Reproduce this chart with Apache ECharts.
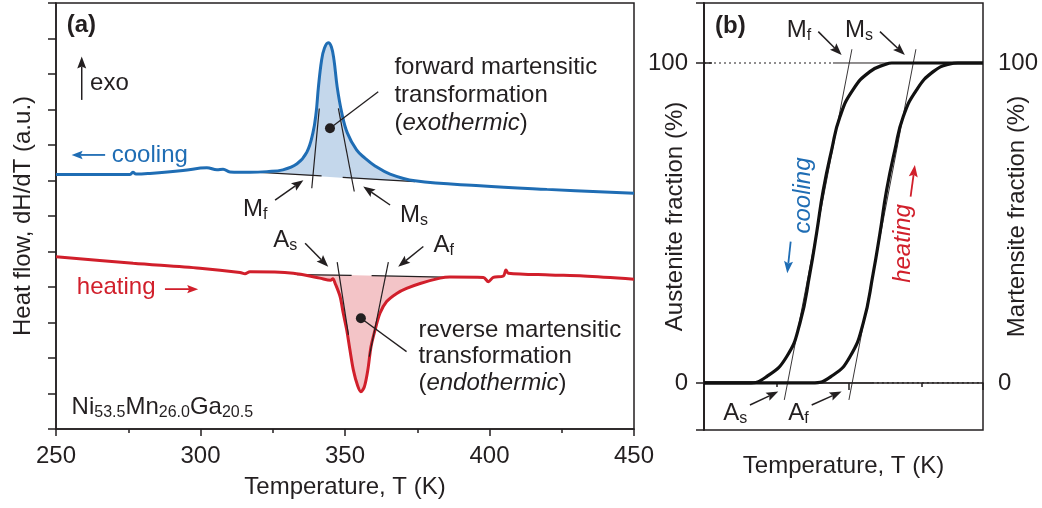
<!DOCTYPE html>
<html>
<head>
<meta charset="utf-8">
<script src="https://cdn.jsdelivr.net/npm/echarts@6/dist/echarts.min.js"></script>
<style>
  html, body { margin: 0; padding: 0; background: #fff; }
  #chart { width: 1042px; height: 508px; }
</style>
</head>
<body>
<div id="chart"></div>
<script>
// ---------- (a) DSC heat-flow traces, temperature in K, heat flow in arbitrary units ----------
const coolT = [250, 275.6, 276.6, 277.7, 282.5, 293.9, 302.2, 305.7, 307.8, 310.2, 317.1, 323.0, 328.5,
  333.4, 336.8, 338.9, 340.0, 340.8, 341.9, 342.9, 344.2, 345.3, 346.2, 347.3, 348.9, 350.8, 354.0,
  356.9, 360.4, 365.6, 374.2, 396.7, 419.9, 450];
const coolQ = [7.17, 7.17, 7.23, 7.18, 7.20, 7.28, 7.36, 7.30, 7.32, 7.24, 7.23, 7.25, 7.30,
  7.47, 7.80, 8.34, 8.90, 9.63, 10.39, 10.73, 10.88, 10.76, 10.39, 9.63, 8.90, 8.34, 7.86,
  7.63, 7.41, 7.18, 6.99, 6.85, 6.75, 6.64];

const heatT = [250, 276.7, 299.8, 313.7, 315.4, 317.1, 332.1, 341.3, 345.0, 345.8, 346.6, 348.3, 349.4,
  350.6, 351.7, 352.9, 354.3, 355.5, 356.7, 357.9, 359.0, 360.4, 362.1, 364.4, 367.9, 371.3, 376.0,
  382.9, 386.3, 397.9, 399.6, 401.3, 404.8, 405.7, 406.5, 420.9, 432.5, 450];
const heatQ = [4.85, 4.67, 4.53, 4.41, 4.37, 4.43, 4.39, 4.25, 4.19, 4.23, 4.10, 3.73, 3.26,
  2.79, 2.23, 1.66, 1.24, 1.05, 1.19, 1.66, 2.32, 2.79, 3.26, 3.59, 3.82, 3.96, 4.10,
  4.25, 4.28, 4.27, 4.15, 4.27, 4.31, 4.48, 4.39, 4.34, 4.31, 4.22];

// extrapolated baselines (end points) and the parts of them that are drawn
const coolBase = [[320.6, 7.23], [374.2, 6.97]];
const coolBaseDrawn = [[[320.6, 7.23], [341.9, 7.13]], [[349.2, 7.09], [374.2, 6.97]]];
const heatBase = [[333.4, 4.35], [388.1, 4.27]];
const heatBaseDrawn = [[[333.4, 4.35], [352.3, 4.33]], [[359.2, 4.32], [388.1, 4.27]]];

// onset / finish tangents
const tangentsA = [
  [[341.1, 9.03], [338.5, 6.78]],   // Mf
  [[347.7, 9.03], [353.2, 6.69]],   // Ms
  [[347.3, 4.70], [351.2, 2.65]],   // As
  [[365.0, 4.70], [358.4, 2.04]]    // Af
];

// ---------- (b) transformed fraction, arbitrary temperature units ----------
const lowU  = [0, 0.607, 0.865, 1.14, 1.324, 1.462, 1.554, 1.646, 1.761, 1.876, 2.055, 2.29, 2.52, 2.59, 3.85];
const lowF  = [0, 0, 2.0, 8.2, 18.75, 34.4, 46.9, 60.3, 72.8, 83.2, 91.6, 97.3, 99.7, 100, 100];
const highU = [0, 1.485, 1.784, 2.014, 2.197, 2.335, 2.428, 2.52, 2.634, 2.749, 2.934, 3.163, 3.393, 3.50, 3.85];
const highF = [0, 0, 2.5, 8.2, 18.7, 34.3, 46.8, 60.3, 72.8, 83.2, 91.6, 97.3, 99.7, 100, 100];
const tangentsB = [
  [[2.041, 104.3], [1.108, -5.3]],
  [[2.924, 104.3], [2.000, -5.3]]
];
const fractionTicks = [0, 100];

// ---------- styling ----------
const FONT = '"Liberation Sans", Arial, Helvetica, sans-serif';
const INK = '#231f20';
const BLUE = '#1f6db4';
const RED = '#d11f2b';
const BLUE_FILL = '#c4d7eb';
const RED_FILL = '#f3c4c7';
const FS = 24;

const RICH = {
  sub: { fontSize: 16, fontFamily: FONT, color: INK, lineHeight: 10, verticalAlign: 'bottom' },
  it: { fontStyle: 'italic', fontSize: FS, fontFamily: FONT, color: INK }
};

const pairs = (xs, ys) => xs.map((x, i) => [x, ys[i]]);

// straight segments (optionally with an arrow head at the second point)
function segmentSeries(segs, xi, yi, color, width, opts) {
  opts = opts || {};
  return {
    type: 'custom', coordinateSystem: 'cartesian2d', xAxisIndex: xi, yAxisIndex: yi,
    silent: true, clip: false, z: opts.z || 4,
    encode: { x: [0, 2], y: [1, 3] },
    data: segs.map(s => [s[0][0], s[0][1], s[1][0], s[1][1]]),
    renderItem: (params, api) => {
      const a = api.coord([api.value(0), api.value(1)]);
      const b = api.coord([api.value(2), api.value(3)]);
      const children = [];
      let end = b;
      if (opts.arrow) {
        const dx = b[0] - a[0], dy = b[1] - a[1];
        const L = Math.hypot(dx, dy), ux = dx / L, uy = dy / L;
        const hl = opts.arrow[0], hw = opts.arrow[1];
        const base = [b[0] - ux * hl, b[1] - uy * hl];
        const notch = [b[0] - ux * hl * 0.82, b[1] - uy * hl * 0.82];
        children.push({
          type: 'polygon',
          shape: { points: [b, [base[0] - uy * hw, base[1] + ux * hw], notch, [base[0] + uy * hw, base[1] - ux * hw]] },
          style: { fill: color }
        });
        end = notch;
      }
      children.unshift({
        type: 'line',
        shape: { x1: a[0], y1: a[1], x2: end[0], y2: end[1] },
        style: { stroke: color, lineWidth: width, lineDash: opts.dash || null, fill: null }
      });
      return { type: 'group', children };
    }
  };
}

// filled area between a trace and its baseline
function fillSeries(xs, ys, base, color) {
  const pts = [base[0]];
  xs.forEach((x, i) => { if (x > base[0][0] && x < base[1][0]) pts.push([x, ys[i]]); });
  pts.push(base[1]);
  return {
    type: 'custom', coordinateSystem: 'cartesian2d', xAxisIndex: 0, yAxisIndex: 0,
    silent: true, z: 1, data: [base[0]],
    renderItem: (params, api) => ({
      type: 'polygon',
      shape: { points: pts.map(p => api.coord(p)), smooth: 0.3 },
      style: { fill: color }
    })
  };
}

// text annotations anchored in data coordinates
function textSeries(items, xi, yi) {
  return {
    type: 'scatter', xAxisIndex: xi, yAxisIndex: yi, symbolSize: 0, silent: true, z: 10,
    itemStyle: { color: 'rgba(0,0,0,0)', opacity: 1 },
    data: items.map(it => ({
      value: it.at,
      label: Object.assign({
        show: true, position: 'right', distance: 0, formatter: it.text,
        color: INK, fontFamily: FONT, fontSize: FS, rich: RICH
      }, it.style || {})
    }))
  };
}

const axisLineStyle = { color: INK, width: 1.5 };
const nameStyle = { fontFamily: FONT, fontSize: FS, color: INK };
const labelStyle = { fontFamily: FONT, fontSize: FS, color: INK };

const option = {
  animation: false,
  backgroundColor: '#fff',
  grid: [
    { left: 56, top: 3, width: 578, height: 426, show: true, borderColor: INK, borderWidth: 1.5 },
    { left: 704, top: 3, width: 279, height: 427, show: true, borderColor: INK, borderWidth: 1.5 }
  ],
  xAxis: [
    {
      gridIndex: 0, type: 'value', min: 250, max: 450, interval: 50,
      axisLine: { lineStyle: axisLineStyle },
      axisTick: { length: 7, lineStyle: axisLineStyle },
      minorTick: { show: true, splitNumber: 2, length: 4, lineStyle: axisLineStyle },
      axisLabel: Object.assign({ margin: 15 }, labelStyle),
      splitLine: { show: false },
      name: 'Temperature, T (K)', nameLocation: 'middle', nameGap: 46, nameMoveOverlap: false,
      nameTextStyle: nameStyle
    },
    {
      gridIndex: 1, type: 'value', min: 0, max: 3.85,
      axisLine: { lineStyle: axisLineStyle },
      axisTick: { length: 7, lineStyle: axisLineStyle, customValues: [0, 2, 3.85] },
      axisLabel: { show: false },
      splitLine: { show: false },
      name: 'Temperature, T (K)', nameLocation: 'middle', nameGap: 24, nameMoveOverlap: false,
      nameTextStyle: nameStyle
    },
    {
      gridIndex: 1, type: 'value', min: 0, max: 3.85, position: 'bottom',
      axisLine: { show: false },
      axisTick: { length: 4, lineStyle: axisLineStyle, customValues: [1, 3] },
      axisLabel: { show: false },
      splitLine: { show: false }
    }
  ],
  yAxis: [
    {
      gridIndex: 0, type: 'value', min: 0, max: 12, interval: 1,
      axisLine: { show: true, lineStyle: axisLineStyle },
      axisTick: { show: true, length: 8, lineStyle: axisLineStyle },
      axisLabel: { show: false },
      splitLine: { show: false },
      name: 'Heat flow, dH/dT (a.u.)', nameLocation: 'middle', nameGap: 21, nameRotate: 90,
      nameMoveOverlap: false, nameTextStyle: nameStyle
    },
    {
      gridIndex: 1, type: 'value', min: -14.7, max: 118.75, position: 'left',
      axisLine: { show: true, lineStyle: axisLineStyle },
      axisTick: { show: true, length: 8, lineStyle: axisLineStyle, customValues: [-14.7, 0, 100, 118.75] },
      axisLabel: Object.assign({ margin: 16, customValues: fractionTicks }, labelStyle),
      splitLine: { show: false },
      name: 'Austenite fraction (%)', nameLocation: 'middle', nameGap: 17, nameRotate: 90,
      nameMoveOverlap: false, nameTextStyle: nameStyle
    },
    {
      gridIndex: 1, type: 'value', min: -14.7, max: 118.75, position: 'right',
      axisLine: { show: true, lineStyle: axisLineStyle },
      axisTick: { show: true, length: 8, lineStyle: axisLineStyle, customValues: fractionTicks },
      axisLabel: Object.assign({ margin: 15, customValues: fractionTicks }, labelStyle),
      splitLine: { show: false },
      name: 'Martensite fraction (%)', nameLocation: 'middle', nameGap: 22, nameRotate: 90,
      nameMoveOverlap: false, nameTextStyle: nameStyle
    }
  ],
  series: [
    // ----- panel (a) -----
    fillSeries(coolT, coolQ, coolBase, BLUE_FILL),
    fillSeries(heatT, heatQ, heatBase, RED_FILL),
    segmentSeries(coolBaseDrawn.concat(heatBaseDrawn), 0, 0, INK, 1.2, { z: 3 }),
    {
      type: 'line', xAxisIndex: 0, yAxisIndex: 0, data: pairs(coolT, coolQ),
      showSymbol: false, smooth: 0.4, silent: true, z: 5,
      lineStyle: { color: BLUE, width: 3 }
    },
    {
      type: 'line', xAxisIndex: 0, yAxisIndex: 0, data: pairs(heatT, heatQ),
      showSymbol: false, smooth: 0.3, silent: true, z: 5,
      lineStyle: { color: RED, width: 3 }
    },
    segmentSeries(tangentsA, 0, 0, INK, 1.2, { z: 6 }),
    // leaders from the peak markers to their captions
    segmentSeries([[[344.8, 8.47], [361.5, 9.50]], [[355.5, 3.12], [371.3, 2.18]]], 0, 0, INK, 1.3, { z: 6 }),
    {
      type: 'scatter', xAxisIndex: 0, yAxisIndex: 0, silent: true, z: 7,
      symbolSize: 10, itemStyle: { color: INK, opacity: 1 },
      data: [[344.8, 8.47], [355.5, 3.12]]
    },
    // arrows: Mf, Ms, As, Af, exo
    segmentSeries([
      [[325.8, 6.45], [335.6, 7.01]],
      [[365.6, 6.31], [356.3, 6.83]],
      [[336.2, 5.23], [344.2, 4.57]],
      [[377.1, 5.14], [368.4, 4.57]],
      [[258.9, 9.27], [258.9, 10.49]]
    ], 0, 0, INK, 1.5, { arrow: [12, 4.5], z: 8 }),
    segmentSeries([[[267.0, 7.72], [255.4, 7.72]]], 0, 0, BLUE, 1.8, { arrow: [11, 4.2], z: 8 }),
    segmentSeries([[[287.7, 3.94], [299.2, 3.94]]], 0, 0, RED, 1.8, { arrow: [11, 4.2], z: 8 }),
    textSeries([
      { at: [253.7, 11.37], text: '(a)', style: { fontWeight: 'bold' } },
      { at: [261.8, 9.75], text: 'exo' },
      { at: [269.3, 7.72], text: 'cooling', style: { color: BLUE } },
      { at: [257.2, 4.0], text: 'heating', style: { color: RED } },
      { at: [255.4, 0.60], text: 'Ni{sub|53.5}Mn{sub|26.0}Ga{sub|20.5}', style: { lineHeight: 26 } },
      { at: [367.1, 9.41], text: 'forward martensitic\ntransformation\n({it|exothermic})', style: { lineHeight: 28 } },
      { at: [375.4, 2.04], text: 'reverse martensitic\ntransformation\n({it|endothermic})', style: { lineHeight: 26.7 } },
      { at: [314.7, 6.18], text: 'M{sub|f}', style: { lineHeight: 26 } },
      { at: [369.0, 6.01], text: 'M{sub|s}', style: { lineHeight: 26 } },
      { at: [325.2, 5.31], text: 'A{sub|s}', style: { lineHeight: 26 } },
      { at: [380.6, 5.17], text: 'A{sub|f}', style: { lineHeight: 26 } }
    ], 0, 0),

    // ----- panel (b) -----
    segmentSeries([[[0, 100], [1.78, 100]], [[2.317, 0], [3.85, 0]]], 1, 1, INK, 1.2, { dash: [2, 3], z: 2 }),
    segmentSeries([[[1.78, 100], [3.85, 100]], [[0, 0], [2.317, 0]]], 1, 1, INK, 1.0, { z: 2 }),
    segmentSeries(tangentsB, 1, 1, INK, 0.9, { z: 3 }),
    {
      type: 'line', xAxisIndex: 1, yAxisIndex: 1, data: pairs(lowU, lowF),
      showSymbol: false, smooth: 0.5, silent: true, z: 5,
      lineStyle: { color: '#111', width: 3.2 }
    },
    {
      type: 'line', xAxisIndex: 1, yAxisIndex: 1, data: pairs(highU, highF),
      showSymbol: false, smooth: 0.5, silent: true, z: 5,
      lineStyle: { color: '#111', width: 3.2 }
    },
    segmentSeries([
      [[1.577, 109.8], [1.899, 102.5]],
      [[2.428, 109.8], [2.772, 102.5]],
      [[0.634, -6.9], [1.025, -2.7]],
      [[1.486, -6.9], [1.899, -2.7]]
    ], 1, 1, INK, 1.5, { arrow: [12, 4.5], z: 8 }),
    segmentSeries([[[1.196, 44.2], [1.149, 34.3]]], 1, 1, BLUE, 1.8, { arrow: [12, 4.5], z: 8 }),
    segmentSeries([[[2.851, 58.2], [2.910, 68.1]]], 1, 1, RED, 1.8, { arrow: [12, 4.5], z: 8 }),
    textSeries([
      { at: [0.152, 111.3], text: '(b)', style: { fontWeight: 'bold' } },
      { at: [1.141, 110.1], text: 'M{sub|f}', style: { lineHeight: 26 } },
      { at: [1.945, 110.1], text: 'M{sub|s}', style: { lineHeight: 26 } },
      { at: [0.267, -9.5], text: 'A{sub|s}', style: { lineHeight: 26 } },
      { at: [1.163, -9.5], text: 'A{sub|f}', style: { lineHeight: 26 } },
      { at: [1.366, 58.6], text: 'cooling',
        style: { color: BLUE, fontStyle: 'italic', rotate: 90, position: 'inside', align: 'center', verticalAlign: 'middle' } },
      { at: [2.752, 43.6], text: 'heating',
        style: { color: RED, fontStyle: 'italic', rotate: 90, position: 'inside', align: 'center', verticalAlign: 'middle' } }
    ], 1, 1)
  ]
};

const chart = echarts.init(document.getElementById('chart'), null, { renderer: 'canvas' });
chart.setOption(option);
</script>
</body>
</html>
